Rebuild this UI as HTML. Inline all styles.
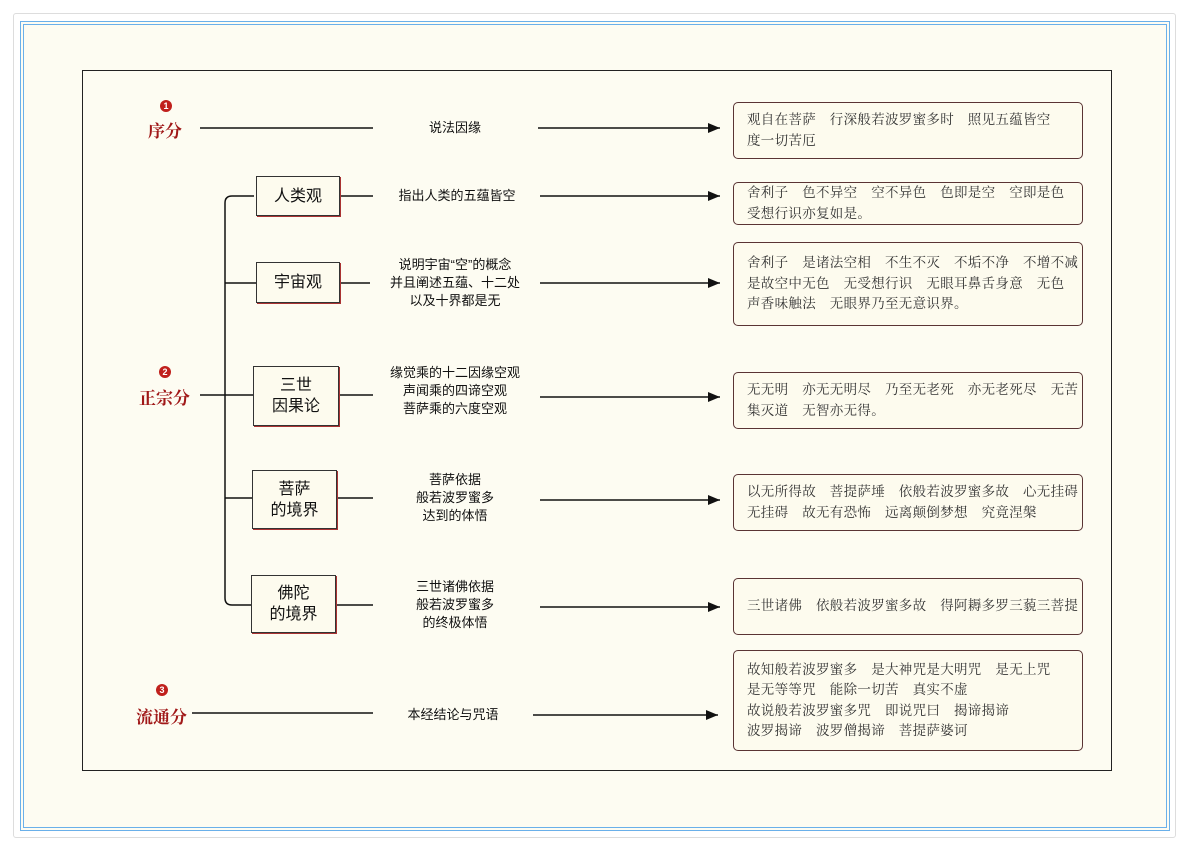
<!DOCTYPE html>
<html><head><meta charset="utf-8"><style>
body{margin:0;width:1188px;height:850px;background:#fff;position:relative;overflow:hidden;font-family:"Liberation Sans","Noto Sans CJK SC",sans-serif}
.a{position:absolute}
.box{position:absolute;border:1.5px solid #333;background:#fdfbee;display:flex;align-items:center;justify-content:center;text-align:center;font-size:16px;line-height:21px;color:#111;box-shadow:1px 1px 0 #a33}
.rb{position:absolute;left:733px;width:350px;border:1.5px solid #5a3434;border-radius:5px;background:#fdfbee;font-family:"Liberation Serif","Noto Serif CJK SC",serif;font-size:13.5px;line-height:20.5px;color:#333;padding:0 0 0 13px;box-sizing:border-box;display:flex;flex-direction:column;justify-content:center;white-space:nowrap;letter-spacing:0.3px}
.mid{position:absolute;width:170px;text-align:center;font-size:13px;line-height:18px;color:#111;white-space:nowrap}
.lab{position:absolute;color:#a01818;font-family:"Liberation Serif","Noto Serif CJK SC",serif;font-weight:bold;font-size:17px}
.num{position:absolute;width:12px;height:12px;border-radius:50%;background:#c0201c;color:#fff;font-size:9px;line-height:12px;text-align:center;font-weight:bold}
</style></head><body>
<div class="a" style="left:13px;top:13px;width:1161px;height:823px;border:1px solid #ddd;border-radius:3px"></div>
<div class="a" style="left:20px;top:21px;width:1142px;height:802px;border:4px double #6ab0ea;background:#fdfcf2"></div>
<div class="a" style="left:82px;top:70px;width:1028px;height:699px;border:1.5px solid #222"></div>
<svg class="a" style="left:0;top:0" width="1188" height="850">
<defs><marker id="ar" markerWidth="12" markerHeight="10" refX="12" refY="5" orient="auto" markerUnits="userSpaceOnUse"><path d="M0,0 L12,5 L0,10z" fill="#111"/></marker></defs>
<g stroke="#111" stroke-width="1.5" fill="none">
<line x1="200" y1="128" x2="373" y2="128"/><line x1="538" y1="128" x2="720" y2="128" marker-end="url(#ar)"/>
<line x1="200" y1="395" x2="225" y2="395"/>
<path d="M254,196 H232 Q225,196 225,203 V598 Q225,605 232,605 H252"/>
<line x1="225" y1="283" x2="256" y2="283"/><line x1="225" y1="395" x2="253" y2="395"/><line x1="225" y1="498" x2="252" y2="498"/>
<line x1="339" y1="196" x2="373" y2="196"/><line x1="540" y1="196" x2="720" y2="196" marker-end="url(#ar)"/>
<line x1="339" y1="283" x2="370" y2="283"/><line x1="540" y1="283" x2="720" y2="283" marker-end="url(#ar)"/>
<line x1="338" y1="395" x2="373" y2="395"/><line x1="540" y1="397" x2="720" y2="397" marker-end="url(#ar)"/>
<line x1="336" y1="498" x2="373" y2="498"/><line x1="540" y1="500" x2="720" y2="500" marker-end="url(#ar)"/>
<line x1="335" y1="605" x2="373" y2="605"/><line x1="540" y1="607" x2="720" y2="607" marker-end="url(#ar)"/>
<line x1="192" y1="713" x2="373" y2="713"/><line x1="533" y1="715" x2="718" y2="715" marker-end="url(#ar)"/>
</g></svg>
<div class="num" style="left:160px;top:100px">1</div><div class="lab" style="left:148px;top:117px">序分</div>
<div class="num" style="left:159px;top:366px">2</div><div class="lab" style="left:139px;top:384px">正宗分</div>
<div class="num" style="left:156px;top:684px">3</div><div class="lab" style="left:136px;top:703px">流通分</div>
<div class="box" style="left:256px;top:176px;width:82px;height:38px">人类观</div>
<div class="box" style="left:256px;top:262px;width:82px;height:39px">宇宙观</div>
<div class="box" style="left:253px;top:366px;width:84px;height:58px">三世<br>因果论</div>
<div class="box" style="left:252px;top:470px;width:83px;height:57px">菩萨<br>的境界</div>
<div class="box" style="left:251px;top:575px;width:83px;height:56px">佛陀<br>的境界</div>
<div class="mid" style="left:370px;top:119px">说法因缘</div>
<div class="mid" style="left:372px;top:187px">指出人类的五蕴皆空</div>
<div class="mid" style="left:370px;top:256px">说明宇宙“空”的概念<br>并且阐述五蕴、十二处<br>以及十界都是无</div>
<div class="mid" style="left:370px;top:364px">缘觉乘的十二因缘空观<br>声闻乘的四谛空观<br>菩萨乘的六度空观</div>
<div class="mid" style="left:370px;top:471px">菩萨依据<br>般若波罗蜜多<br>达到的体悟</div>
<div class="mid" style="left:370px;top:578px">三世诸佛依据<br>般若波罗蜜多<br>的终极体悟</div>
<div class="mid" style="left:368px;top:706px">本经结论与咒语</div>
<div class="rb" style="top:102px;height:57px">观自在菩萨　行深般若波罗蜜多时　照见五蕴皆空<br>度一切苦厄</div>
<div class="rb" style="top:182px;height:43px">舍利子　色不异空　空不异色　色即是空　空即是色<br>受想行识亦复如是。</div>
<div class="rb" style="top:242px;height:84px">舍利子　是诸法空相　不生不灭　不垢不净　不增不减<br>是故空中无色　无受想行识　无眼耳鼻舌身意　无色<br>声香味触法　无眼界乃至无意识界。</div>
<div class="rb" style="top:372px;height:57px">无无明　亦无无明尽　乃至无老死　亦无老死尽　无苦<br>集灭道　无智亦无得。</div>
<div class="rb" style="top:474px;height:57px">以无所得故　菩提萨埵　依般若波罗蜜多故　心无挂碍<br>无挂碍　故无有恐怖　远离颠倒梦想　究竟涅槃</div>
<div class="rb" style="top:578px;height:57px">三世诸佛　依般若波罗蜜多故　得阿耨多罗三藐三菩提</div>
<div class="rb" style="top:650px;height:101px">故知般若波罗蜜多　是大神咒是大明咒　是无上咒<br>是无等等咒　能除一切苦　真实不虚<br>故说般若波罗蜜多咒　即说咒曰　揭谛揭谛<br>波罗揭谛　波罗僧揭谛　菩提萨婆诃</div>
</body></html>
